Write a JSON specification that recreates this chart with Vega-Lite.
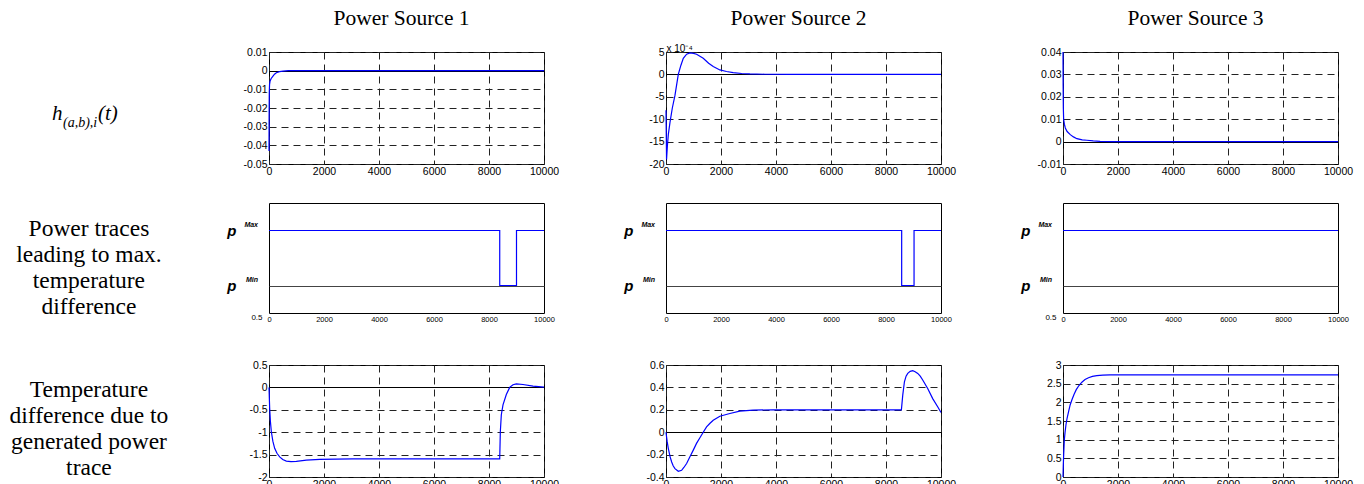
{
  "$schema": "https://vega.github.io/schema/vega-lite/v6.json",
  "background": "white",
  "padding": {"left": 0, "top": 6, "right": 5, "bottom": 0},
  "columns": 4,
  "bounds": "flush",
  "align": "each",
  "spacing": {"row": 39, "column": 122},
  "datasets": {
    "heads": [{"label": ""}],
    "h1": [{"t":0,"v":-0.043},{"t":4,"v":-0.025},{"t":10,"v":-0.012},{"t":20,"v":-0.0075},{"t":40,"v":-0.0055},{"t":80,"v":-0.0042},{"t":145,"v":-0.0029},{"t":200,"v":-0.0019},{"t":267,"v":-0.0011},{"t":380,"v":-0.0005},{"t":509,"v":-0.0002},{"t":700,"v":0},{"t":10000,"v":0}],
    "h2": [{"t":0,"v":-8},{"t":20,"v":-19},{"t":50,"v":-16},{"t":85,"v":-13.4},{"t":145,"v":-10.7},{"t":230,"v":-7.5},{"t":326,"v":-4.7},{"t":447,"v":0},{"t":540,"v":2},{"t":629,"v":3.6},{"t":750,"v":4.5},{"t":870,"v":4.8},{"t":1000,"v":4.7},{"t":1112,"v":4.5},{"t":1354,"v":3.6},{"t":1550,"v":2.5},{"t":1717,"v":1.75},{"t":1960,"v":1},{"t":2200,"v":0.65},{"t":2442,"v":0.4},{"t":2750,"v":0.2},{"t":3047,"v":0.1},{"t":3600,"v":0.03},{"t":4500,"v":0},{"t":10000,"v":0}],
    "h3": [{"t":0,"v":0.04},{"t":5,"v":0.025},{"t":12,"v":0.015},{"t":24,"v":0.0098},{"t":50,"v":0.0078},{"t":84,"v":0.0061},{"t":150,"v":0.0045},{"t":265,"v":0.0031},{"t":380,"v":0.0021},{"t":506,"v":0.0013},{"t":700,"v":0.0008},{"t":867,"v":0.0006},{"t":1100,"v":0.0003},{"t":1349,"v":0.0001},{"t":1800,"v":0},{"t":10000,"v":0}],
    "p1": [{"t":0,"v":2},{"t":8390,"v":1},{"t":9000,"v":2},{"t":10000,"v":2}],
    "p2": [{"t":0,"v":2},{"t":8570,"v":1},{"t":9020,"v":2},{"t":10000,"v":2}],
    "p3": [{"t":0,"v":2},{"t":10000,"v":2}],
    "T1": [{"t":0,"v":0},{"t":24,"v":-0.46},{"t":50,"v":-0.75},{"t":85,"v":-0.99},{"t":140,"v":-1.2},{"t":206,"v":-1.36},{"t":290,"v":-1.47},{"t":388,"v":-1.55},{"t":500,"v":-1.61},{"t":630,"v":-1.645},{"t":800,"v":-1.655},{"t":994,"v":-1.65},{"t":1358,"v":-1.625},{"t":1842,"v":-1.605},{"t":3055,"v":-1.595},{"t":8390,"v":-1.595},{"t":8395,"v":-1.45},{"t":8412,"v":-0.99},{"t":8448,"v":-0.61},{"t":8509,"v":-0.39},{"t":8630,"v":-0.16},{"t":8752,"v":0},{"t":8873,"v":0.06},{"t":8994,"v":0.08},{"t":9236,"v":0.065},{"t":9600,"v":0.03},{"t":10000,"v":0.005}],
    "T2": [{"t":0,"v":0},{"t":40,"v":-0.08},{"t":85,"v":-0.146},{"t":150,"v":-0.22},{"t":206,"v":-0.266},{"t":260,"v":-0.3},{"t":326,"v":-0.325},{"t":447,"v":-0.349},{"t":568,"v":-0.34},{"t":650,"v":-0.315},{"t":750,"v":-0.28},{"t":870,"v":-0.22},{"t":992,"v":-0.16},{"t":1110,"v":-0.1},{"t":1233,"v":-0.05},{"t":1354,"v":0},{"t":1475,"v":0.048},{"t":1600,"v":0.08},{"t":1717,"v":0.107},{"t":1959,"v":0.143},{"t":2322,"v":0.167},{"t":2684,"v":0.188},{"t":3168,"v":0.197},{"t":3894,"v":0.2},{"t":8560,"v":0.2},{"t":8609,"v":0.331},{"t":8670,"v":0.45},{"t":8730,"v":0.5},{"t":8791,"v":0.525},{"t":8880,"v":0.543},{"t":8972,"v":0.549},{"t":9060,"v":0.54},{"t":9154,"v":0.525},{"t":9245,"v":0.5},{"t":9335,"v":0.466},{"t":9516,"v":0.39},{"t":9698,"v":0.3},{"t":9879,"v":0.227},{"t":10000,"v":0.176}],
    "T3": [{"t":0,"v":0},{"t":10,"v":0.3},{"t":24,"v":0.586},{"t":48,"v":0.99},{"t":75,"v":1.2},{"t":108,"v":1.4},{"t":150,"v":1.58},{"t":205,"v":1.76},{"t":260,"v":1.93},{"t":325,"v":2.07},{"t":400,"v":2.21},{"t":482,"v":2.34},{"t":580,"v":2.45},{"t":687,"v":2.54},{"t":800,"v":2.61},{"t":928,"v":2.66},{"t":1070,"v":2.695},{"t":1229,"v":2.715},{"t":1450,"v":2.728},{"t":1711,"v":2.735},{"t":10000,"v":2.735}],
    "sup": [{"lvl":2,"s":"Max"},{"lvl":1,"s":"Min"}]
  },
  "concat": [
    {
      "width": 147, "height": 1, "view": {"stroke": null},
      "data": {"name": "heads"},
      "mark": {"type": "text"},
      "encoding": {"text": {"field": "label"}}
    },
    {
      "width": 275, "height": 1, "view": {"stroke": null},
      "data": {"values": [{"label": "Power Source 1"}]},
      "mark": {"type": "text", "align": "center", "baseline": "alphabetic", "font": "Liberation Serif", "fontSize": 21.5, "dy": 12, "dx": -5},
      "encoding": {
        "x": {"datum": 0.5, "type": "quantitative", "scale": {"domain": [0, 1], "nice": false}, "axis": null},
        "y": {"datum": 0, "type": "quantitative", "scale": {"domain": [0, 1], "nice": false}, "axis": null},
        "text": {"field": "label"}
      }
    },
    {
      "width": 275, "height": 1, "view": {"stroke": null},
      "data": {"values": [{"label": "Power Source 2"}]},
      "mark": {"type": "text", "align": "center", "baseline": "alphabetic", "font": "Liberation Serif", "fontSize": 21.5, "dy": 12, "dx": -5},
      "encoding": {
        "x": {"datum": 0.5, "type": "quantitative", "scale": {"domain": [0, 1], "nice": false}, "axis": null},
        "y": {"datum": 0, "type": "quantitative", "scale": {"domain": [0, 1], "nice": false}, "axis": null},
        "text": {"field": "label"}
      }
    },
    {
      "width": 275, "height": 1, "view": {"stroke": null},
      "data": {"values": [{"label": "Power Source 3"}]},
      "mark": {"type": "text", "align": "center", "baseline": "alphabetic", "font": "Liberation Serif", "fontSize": 21.5, "dy": 12, "dx": -5},
      "encoding": {
        "x": {"datum": 0.5, "type": "quantitative", "scale": {"domain": [0, 1], "nice": false}, "axis": null},
        "y": {"datum": 0, "type": "quantitative", "scale": {"domain": [0, 1], "nice": false}, "axis": null},
        "text": {"field": "label"}
      }
    },
    {
      "width": 147, "height": 112, "view": {"stroke": null},
      "data": {"values": [{"main":"h","sub":"(a,b),i","tail":"(t)"}]},
      "encoding": {
        "x": {"datum": 0.354, "type": "quantitative", "scale": {"domain": [0, 1], "nice": false}, "axis": null},
        "y": {"datum": 0.39, "type": "quantitative", "scale": {"domain": [0, 1], "nice": false}, "axis": null}
      },
      "layer": [
        {"mark": {"type": "text", "align": "left", "baseline": "alphabetic", "font": "Liberation Serif", "fontStyle": "italic", "fontSize": 21}, "encoding": {"text": {"field": "main"}}},
        {"mark": {"type": "text", "align": "left", "baseline": "alphabetic", "font": "Liberation Serif", "fontStyle": "italic", "fontSize": 14, "dx": 11, "dy": 7}, "encoding": {"text": {"field": "sub"}}},
        {"mark": {"type": "text", "align": "left", "baseline": "alphabetic", "font": "Liberation Serif", "fontStyle": "italic", "fontSize": 21, "dx": 46}, "encoding": {"text": {"field": "tail"}}}
      ]
    },
    {
      "width": 275, "height": 112,
      "data": {"name": "h1"}, "mark": {"type": "line", "color": "#0000ff", "strokeWidth": 1.2},
      "encoding": {
        "x": {"field": "t", "type": "quantitative", "scale": {"domain": [0, 10000], "nice": false}, "axis": {"values": [0,2000,4000,6000,8000,10000], "format": "d", "grid": true, "gridDash": [7,5], "gridColor": "#222", "title": null}},
        "y": {"field": "v", "type": "quantitative", "scale": {"domain": [-0.05, 0.01], "nice": false, "zero": false}, "axis": {"values": [-0.05,-0.04,-0.03,-0.02,-0.01,0,0.01], "labelExpr": "'' + datum.value", "grid": true,
          "gridDash": {"condition": {"test": "datum.value == 0", "value": []}, "value": [7,5]},
          "gridColor": {"condition": {"test": "datum.value == 0", "value": "black"}, "value": "#222"}, "title": null}}
      }
    },
    {
      "width": 275, "height": 112,
      "data": {"name": "h2"}, "mark": {"type": "line", "color": "#0000ff", "strokeWidth": 1.2},
      "encoding": {
        "x": {"field": "t", "type": "quantitative", "scale": {"domain": [0, 10000], "nice": false}, "axis": {"values": [0,2000,4000,6000,8000,10000], "format": "d", "grid": true, "gridDash": [7,5], "gridColor": "#222", "title": null}},
        "y": {"field": "v", "type": "quantitative", "scale": {"domain": [-20, 5], "nice": false, "zero": false}, "axis": {"values": [-20,-15,-10,-5,0,5], "labelExpr": "'' + datum.value", "grid": true,
          "gridDash": {"condition": {"test": "datum.value == 0", "value": []}, "value": [7,5]},
          "gridColor": {"condition": {"test": "datum.value == 0", "value": "black"}, "value": "#222"},
          "title": "x 10⁻⁴", "titleAngle": 0, "titleAlign": "left", "titleBaseline": "alphabetic", "titleX": 0, "titleY": -1, "titleFont": "Liberation Sans", "titleFontSize": 10, "titleFontWeight": "normal", "titleColor": "black"}}
      }
    },
    {
      "width": 275, "height": 112,
      "data": {"name": "h3"}, "mark": {"type": "line", "color": "#0000ff", "strokeWidth": 1.2},
      "encoding": {
        "x": {"field": "t", "type": "quantitative", "scale": {"domain": [0, 10000], "nice": false}, "axis": {"values": [0,2000,4000,6000,8000,10000], "format": "d", "grid": true, "gridDash": [7,5], "gridColor": "#222", "title": null}},
        "y": {"field": "v", "type": "quantitative", "scale": {"domain": [-0.01, 0.04], "nice": false, "zero": false}, "axis": {"values": [-0.01,0,0.01,0.02,0.03,0.04], "labelExpr": "'' + datum.value", "grid": true,
          "gridDash": {"condition": {"test": "datum.value == 0", "value": []}, "value": [7,5]},
          "gridColor": {"condition": {"test": "datum.value == 0", "value": "black"}, "value": "#222"}, "title": null}}
      }
    },
    {
      "width": 147, "height": 123, "view": {"stroke": null},
      "data": {"values": [{"label": ["Power traces", "leading to max.", "temperature", "difference"]}]},
      "mark": {"type": "text", "align": "center", "baseline": "alphabetic", "font": "Liberation Serif", "fontSize": 23.5, "lineHeight": 26},
      "encoding": {
        "x": {"datum": 0.605, "type": "quantitative", "scale": {"domain": [0, 1], "nice": false}, "axis": null},
        "y": {"datum": 0.73, "type": "quantitative", "scale": {"domain": [0, 1], "nice": false}, "axis": null},
        "text": {"field": "label"}
      }
    },
    {
      "width": 275, "height": 110,
      "layer": [
        {"data": {"name": "p1"}, "mark": {"type": "line", "color": "#0000ff", "strokeWidth": 1.2, "interpolate": "step-after"},
          "encoding": {
            "x": {"field": "t", "type": "quantitative", "scale": {"domain": [0, 10000], "nice": false}, "axis": {"values": [0,2000,4000,6000,8000,10000], "format": "d", "labelFontSize": 7.5, "grid": false, "title": null}},
            "y": {"field": "v", "type": "quantitative", "scale": {"domain": [0.5, 2.5], "nice": false, "zero": false}, "axis": {"values": [0.5, 1, 1.5, 2], "labelExpr": "datum.value == 0.5 ? '0.5' : (datum.value == 1.5 ? '' : 'p')",
              "labelFontSize": {"condition": {"test": "datum.value == 0.5", "value": 8}, "value": 15},
              "labelFontWeight": {"condition": {"test": "datum.value == 0.5", "value": "normal"}, "value": "bold"},
              "labelFontStyle": {"condition": {"test": "datum.value == 0.5", "value": "normal"}, "value": "italic"},
              "labelBaseline": {"condition": {"test": "datum.value == 0.5", "value": "top"}, "value": "middle"},
              "labelPadding": {"condition": {"test": "datum.value == 0.5", "value": 7}, "value": 33},
              "grid": true, "gridColor": "#444", "gridDash": [],
              "gridOpacity": {"condition": {"test": "datum.value == 1", "value": 1}, "value": 0},
              "title": null}}
          }},
        {"data": {"name": "sup"}, "mark": {"type": "text", "align": "right", "baseline": "alphabetic", "font": "Liberation Sans", "fontSize": 7, "fontWeight": "bold", "fontStyle": "italic", "dy": -4},
          "encoding": {
            "x": {"datum": -400, "type": "quantitative", "axis": {"values": [0,2000,4000,6000,8000,10000], "format": "d", "labelFontSize": 7.5, "grid": false, "title": null}},
            "y": {"field": "lvl", "type": "quantitative", "axis": {"values": [0.5, 1, 1.5, 2], "labelExpr": "datum.value == 0.5 ? '0.5' : (datum.value == 1.5 ? '' : 'p')",
              "labelFontSize": {"condition": {"test": "datum.value == 0.5", "value": 8}, "value": 15},
              "labelFontWeight": {"condition": {"test": "datum.value == 0.5", "value": "normal"}, "value": "bold"},
              "labelFontStyle": {"condition": {"test": "datum.value == 0.5", "value": "normal"}, "value": "italic"},
              "labelBaseline": {"condition": {"test": "datum.value == 0.5", "value": "top"}, "value": "middle"},
              "labelPadding": {"condition": {"test": "datum.value == 0.5", "value": 7}, "value": 33},
              "grid": true, "gridColor": "#444", "gridDash": [],
              "gridOpacity": {"condition": {"test": "datum.value == 1", "value": 1}, "value": 0},
              "title": null}},
            "text": {"field": "s"}}}
      ]
    },
    {
      "width": 275, "height": 110,
      "layer": [
        {"data": {"name": "p2"}, "mark": {"type": "line", "color": "#0000ff", "strokeWidth": 1.2, "interpolate": "step-after"},
          "encoding": {
            "x": {"field": "t", "type": "quantitative", "scale": {"domain": [0, 10000], "nice": false}, "axis": {"values": [0,2000,4000,6000,8000,10000], "format": "d", "labelFontSize": 7.5, "grid": false, "title": null}},
            "y": {"field": "v", "type": "quantitative", "scale": {"domain": [0.5, 2.5], "nice": false, "zero": false}, "axis": {"values": [1, 1.5, 2], "labelExpr": "datum.value == 1.5 ? '' : 'p'",
              "labelFontSize": 15, "labelFontWeight": "bold", "labelFontStyle": "italic", "labelBaseline": "middle", "labelPadding": 33,
              "grid": true, "gridColor": "#444", "gridDash": [],
              "gridOpacity": {"condition": {"test": "datum.value == 1", "value": 1}, "value": 0},
              "title": null}}
          }},
        {"data": {"name": "sup"}, "mark": {"type": "text", "align": "right", "baseline": "alphabetic", "font": "Liberation Sans", "fontSize": 7, "fontWeight": "bold", "fontStyle": "italic", "dy": -4},
          "encoding": {
            "x": {"datum": -400, "type": "quantitative", "axis": {"values": [0,2000,4000,6000,8000,10000], "format": "d", "labelFontSize": 7.5, "grid": false, "title": null}},
            "y": {"field": "lvl", "type": "quantitative", "axis": {"values": [1, 1.5, 2], "labelExpr": "datum.value == 1.5 ? '' : 'p'",
              "labelFontSize": 15, "labelFontWeight": "bold", "labelFontStyle": "italic", "labelBaseline": "middle", "labelPadding": 33,
              "grid": true, "gridColor": "#444", "gridDash": [],
              "gridOpacity": {"condition": {"test": "datum.value == 1", "value": 1}, "value": 0},
              "title": null}},
            "text": {"field": "s"}}}
      ]
    },
    {
      "width": 275, "height": 110,
      "layer": [
        {"data": {"name": "p3"}, "mark": {"type": "line", "color": "#0000ff", "strokeWidth": 1.2, "interpolate": "step-after"},
          "encoding": {
            "x": {"field": "t", "type": "quantitative", "scale": {"domain": [0, 10000], "nice": false}, "axis": {"values": [0,2000,4000,6000,8000,10000], "format": "d", "labelFontSize": 7.5, "grid": false, "title": null}},
            "y": {"field": "v", "type": "quantitative", "scale": {"domain": [0.5, 2.5], "nice": false, "zero": false}, "axis": {"values": [0.5, 1, 1.5, 2], "labelExpr": "datum.value == 0.5 ? '0.5' : (datum.value == 1.5 ? '' : 'p')",
              "labelFontSize": {"condition": {"test": "datum.value == 0.5", "value": 8}, "value": 15},
              "labelFontWeight": {"condition": {"test": "datum.value == 0.5", "value": "normal"}, "value": "bold"},
              "labelFontStyle": {"condition": {"test": "datum.value == 0.5", "value": "normal"}, "value": "italic"},
              "labelBaseline": {"condition": {"test": "datum.value == 0.5", "value": "top"}, "value": "middle"},
              "labelPadding": {"condition": {"test": "datum.value == 0.5", "value": 7}, "value": 33},
              "grid": true, "gridColor": "#444", "gridDash": [],
              "gridOpacity": {"condition": {"test": "datum.value == 1", "value": 1}, "value": 0},
              "title": null}}
          }},
        {"data": {"name": "sup"}, "mark": {"type": "text", "align": "right", "baseline": "alphabetic", "font": "Liberation Sans", "fontSize": 7, "fontWeight": "bold", "fontStyle": "italic", "dy": -4},
          "encoding": {
            "x": {"datum": -400, "type": "quantitative", "axis": {"values": [0,2000,4000,6000,8000,10000], "format": "d", "labelFontSize": 7.5, "grid": false, "title": null}},
            "y": {"field": "lvl", "type": "quantitative", "axis": {"values": [0.5, 1, 1.5, 2], "labelExpr": "datum.value == 0.5 ? '0.5' : (datum.value == 1.5 ? '' : 'p')",
              "labelFontSize": {"condition": {"test": "datum.value == 0.5", "value": 8}, "value": 15},
              "labelFontWeight": {"condition": {"test": "datum.value == 0.5", "value": "normal"}, "value": "bold"},
              "labelFontStyle": {"condition": {"test": "datum.value == 0.5", "value": "normal"}, "value": "italic"},
              "labelBaseline": {"condition": {"test": "datum.value == 0.5", "value": "top"}, "value": "middle"},
              "labelPadding": {"condition": {"test": "datum.value == 0.5", "value": 7}, "value": 33},
              "grid": true, "gridColor": "#444", "gridDash": [],
              "gridOpacity": {"condition": {"test": "datum.value == 1", "value": 1}, "value": 0},
              "title": null}},
            "text": {"field": "s"}}}
      ]
    },
    {
      "width": 147, "height": 112, "view": {"stroke": null},
      "data": {"values": [{"label": ["Temperature", "difference due to", "generated power", "trace"]}]},
      "mark": {"type": "text", "align": "center", "baseline": "alphabetic", "font": "Liberation Serif", "fontSize": 23.5, "lineHeight": 26},
      "encoding": {
        "x": {"datum": 0.605, "type": "quantitative", "scale": {"domain": [0, 1], "nice": false}, "axis": null},
        "y": {"datum": 0.71, "type": "quantitative", "scale": {"domain": [0, 1], "nice": false}, "axis": null},
        "text": {"field": "label"}
      }
    },
    {
      "width": 275, "height": 112,
      "data": {"name": "T1"}, "mark": {"type": "line", "color": "#0000ff", "strokeWidth": 1.2},
      "encoding": {
        "x": {"field": "t", "type": "quantitative", "scale": {"domain": [0, 10000], "nice": false}, "axis": {"values": [0,2000,4000,6000,8000,10000], "format": "d", "grid": true, "gridDash": [7,5], "gridColor": "#222", "title": null}},
        "y": {"field": "v", "type": "quantitative", "scale": {"domain": [-2, 0.5], "nice": false, "zero": false}, "axis": {"values": [-2,-1.5,-1,-0.5,0,0.5], "labelExpr": "'' + datum.value", "grid": true,
          "gridDash": {"condition": {"test": "datum.value == 0", "value": []}, "value": [7,5]},
          "gridColor": {"condition": {"test": "datum.value == 0", "value": "black"}, "value": "#222"}, "title": null}}
      }
    },
    {
      "width": 275, "height": 112,
      "data": {"name": "T2"}, "mark": {"type": "line", "color": "#0000ff", "strokeWidth": 1.2},
      "encoding": {
        "x": {"field": "t", "type": "quantitative", "scale": {"domain": [0, 10000], "nice": false}, "axis": {"values": [0,2000,4000,6000,8000,10000], "format": "d", "grid": true, "gridDash": [7,5], "gridColor": "#222", "title": null}},
        "y": {"field": "v", "type": "quantitative", "scale": {"domain": [-0.4, 0.6], "nice": false, "zero": false}, "axis": {"values": [-0.4,-0.2,0,0.2,0.4,0.6], "labelExpr": "'' + datum.value", "grid": true,
          "gridDash": {"condition": {"test": "datum.value == 0", "value": []}, "value": [7,5]},
          "gridColor": {"condition": {"test": "datum.value == 0", "value": "black"}, "value": "#222"}, "title": null}}
      }
    },
    {
      "width": 275, "height": 112,
      "data": {"name": "T3"}, "mark": {"type": "line", "color": "#0000ff", "strokeWidth": 1.2},
      "encoding": {
        "x": {"field": "t", "type": "quantitative", "scale": {"domain": [0, 10000], "nice": false}, "axis": {"values": [0,2000,4000,6000,8000,10000], "format": "d", "grid": true, "gridDash": [7,5], "gridColor": "#222", "title": null}},
        "y": {"field": "v", "type": "quantitative", "scale": {"domain": [0, 3], "nice": false, "zero": false}, "axis": {"values": [0,0.5,1,1.5,2,2.5,3], "labelExpr": "'' + datum.value", "grid": true, "gridDash": [7,5], "gridColor": "#222", "title": null}}
      }
    }
  ],
  "config": {
    "view": {"stroke": "black", "strokeWidth": 1},
    "axis": {"domain": false, "ticks": false, "labelFont": "Liberation Sans", "labelFontSize": 10.5, "labelColor": "black", "labelPadding": 2, "labelOverlap": false, "labelFlush": false},
    "text": {"color": "black"}
  }
}
